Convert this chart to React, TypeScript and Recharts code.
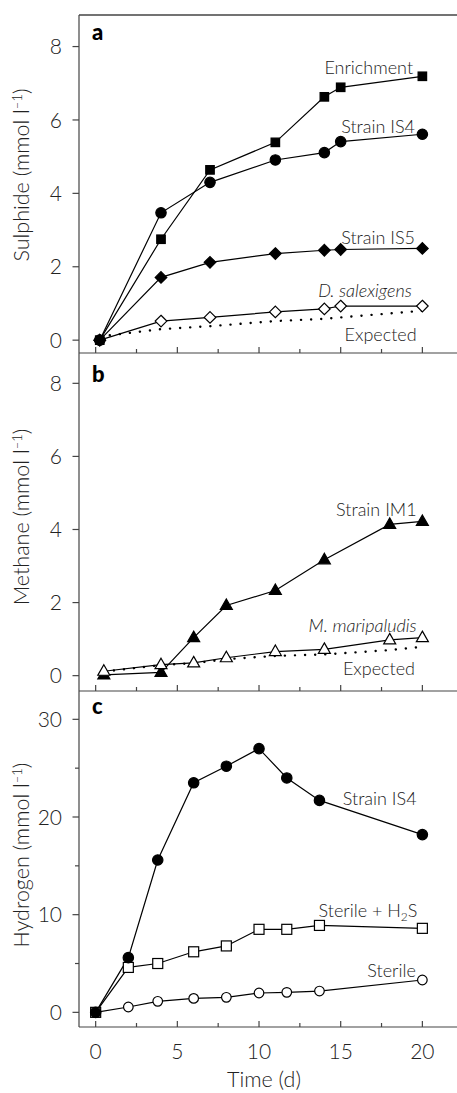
import React from "react"
import { Label, Line, LineChart, ReferenceDot, XAxis, YAxis } from "recharts"

const FONT = "Lato, 'Open Sans', sans-serif"
const WEIGHT = 300
const INK = "#222"
const AXIS = "#444"
const CHART_WIDTH = 457

// time axis, shared by the three panels
const dayTicks = [0, 2.5, 5, 7.5, 10, 12.5, 15, 17.5, 20]
const dayDomain = [-1.02, 22.12]

// a: sulphide
const sulphideDays = [0.25, 4, 7, 11, 14, 15, 20]
const enrichment = [0, 2.75, 4.64, 5.39, 6.63, 6.89, 7.19]
const strainIS4Sulphide = [0, 3.47, 4.3, 4.91, 5.11, 5.41, 5.61]
const strainIS5 = [0, 1.71, 2.12, 2.36, 2.45, 2.47, 2.5]
const dSalexigens = [0, 0.52, 0.62, 0.77, 0.85, 0.93, 0.93]
const sulphideExpected = [0.1, 0.3, 0.38, 0.52, 0.58, 0.62, 0.8]
const sulphideTicks = [0, 2, 4, 6, 8]

// b: methane
const methaneDays = [0.5, 4, 6, 8, 11, 14, 18, 20]
const strainIM1 = [0.02, 0.09, 1.04, 1.92, 2.33, 3.17, 4.14, 4.22]
const mMaripaludis = [0.12, 0.3, 0.35, 0.49, 0.66, 0.72, 0.98, 1.04]
const methaneExpected = [0.11, 0.29, 0.34, 0.45, 0.54, 0.58, 0.7, 0.79]
const methaneTicks = [0, 2, 4, 6, 8]

// c: hydrogen
const hydrogenDays = [0, 2, 3.8, 6, 8, 10, 11.7, 13.7, 20]
const strainIS4Hydrogen = [0, 5.6, 15.6, 23.5, 25.2, 27.0, 24.0, 21.7, 18.2]
const sterileH2S = [0, 4.6, 5.0, 6.2, 6.8, 8.5, 8.5, 8.9, 8.6]
const sterile = [0, 0.55, 1.13, 1.43, 1.54, 1.98, 2.05, 2.18, 3.31]
const hydrogenTicks = [0, 5, 10, 15, 20, 25, 30]

const sulphideRows = sulphideDays.map((day, i) => ({
  day,
  enrichment: enrichment[i],
  is4: strainIS4Sulphide[i],
  is5: strainIS5[i],
  dsal: dSalexigens[i],
  expected: sulphideExpected[i],
}))

const methaneRows = methaneDays.map((day, i) => ({
  day,
  im1: strainIM1[i],
  mmar: mMaripaludis[i],
  expected: methaneExpected[i],
}))

const hydrogenRows = hydrogenDays.map((day, i) => ({
  day,
  is4: strainIS4Hydrogen[i],
  sterileH2S: sterileH2S[i],
  sterile: sterile[i],
}))

type Note = { day: number; value: number; text: string; italic?: boolean; sub?: string; after?: string }

const sulphideNotes: Note[] = [
  { day: 19.43, value: 7.25, text: "Enrichment" },
  { day: 19.55, value: 5.64, text: "Strain IS4" },
  { day: 19.55, value: 2.61, text: "Strain IS5" },
  { day: 19.35, value: 1.18, text: "D. salexigens", italic: true },
  { day: 19.65, value: -0.02, text: "Expected" },
]

const methaneNotes: Note[] = [
  { day: 19.65, value: 4.37, text: "Strain IM1" },
  { day: 19.65, value: 1.2, text: "M. maripaludis", italic: true },
  { day: 19.55, value: 0.02, text: "Expected" },
]

const hydrogenNotes: Note[] = [
  { day: 19.65, value: 21.2, text: "Strain IS4" },
  { day: 19.7, value: 9.79, text: "Sterile + H", sub: "2", after: "S" },
  { day: 19.6, value: 3.65, text: "Sterile" },
]

type Shape = "square" | "circle" | "diamond" | "triangle"

function marker(shape: Shape, filled: boolean) {
  return (props: any) => {
    const { cx, cy, index } = props
    const common = {
      fill: filled ? "#000" : "#fff",
      stroke: "#000",
      strokeWidth: 1.2,
    }
    const key = `${shape}-${filled}-${index}`
    if (cx == null || cy == null) return <g key={key} />
    if (shape === "square") {
      const s = filled ? 8.5 : 10
      return <rect key={key} x={cx - s / 2} y={cy - s / 2} width={s} height={s} {...common} />
    }
    if (shape === "circle") return <circle key={key} cx={cx} cy={cy} r={filled ? 5.2 : 4.8} {...common} />
    if (shape === "diamond") {
      const d = 5.8
      return <polygon key={key} points={`${cx},${cy - d} ${cx + d},${cy} ${cx},${cy + d} ${cx - d},${cy}`} {...common} />
    }
    return <polygon key={key} points={`${cx},${cy - 6.5} ${cx + 6},${cy + 4} ${cx - 6},${cy + 4}`} {...common} />
  }
}

function DayTick(props: any) {
  const { x, y, payload, showLabel } = props
  const major = payload.value % 5 === 0
  return (
    <g>
      <line x1={x} x2={x} y1={y} y2={y - (major ? 6 : 4)} stroke={AXIS} strokeWidth={1.2} />
      {showLabel && major && (
        <text x={x} y={y + 32} textAnchor="middle" fontSize={21} fontWeight={WEIGHT} fill={INK} fontFamily={FONT}>
          {payload.value}
        </text>
      )}
    </g>
  )
}

function ValueTick(props: any) {
  const { x, y, payload, labelEvery } = props
  const major = payload.value % labelEvery === 0
  return (
    <g>
      <line x1={x - (major ? 6.5 : 4)} x2={x} y1={y} y2={y} stroke={AXIS} strokeWidth={1.2} />
      {major && (
        <text
          x={x - 17}
          y={y}
          dy="0.36em"
          textAnchor="end"
          fontSize={21}
          fontWeight={WEIGHT}
          fill={INK}
          fontFamily={FONT}
        >
          {payload.value}
        </text>
      )}
    </g>
  )
}

// rotated y title, the bold panel letter and (panel a only) the top frame line
function panelTitle(title: string, letter: string, shiftY: number, letterY: number, topFrame = false) {
  return (props: any) => {
    const vb = props.viewBox
    const cx = 29
    const cy = vb.y + vb.height / 2 + shiftY
    const left = vb.x + vb.width
    return (
      <g>
        {topFrame && <line x1={left} x2={CHART_WIDTH} y1={vb.y} y2={vb.y} stroke={AXIS} strokeWidth={1.3} />}
        <text
          x={cx}
          y={cy}
          transform={`rotate(-90, ${cx}, ${cy})`}
          textAnchor="middle"
          fontSize={21.5}
          fontWeight={WEIGHT}
          fill={INK}
          fontFamily={FONT}
        >
          {title} (mmol l
          <tspan dy={-7} fontSize={13}>
            –1
          </tspan>
          <tspan dy={7}>)</tspan>
        </text>
        <text x={left + 13} y={vb.y + letterY} fontSize={22} fontWeight={900} fill="#000" fontFamily={FONT}>
          {letter}
        </text>
      </g>
    )
  }
}

function notes(list: Note[]) {
  return list.map((n) => (
    <ReferenceDot
      key={n.text}
      x={n.day}
      y={n.value}
      r={0}
      fill="none"
      stroke="none"
      label={(props: any) => (
        <text
          x={props.viewBox.x}
          y={props.viewBox.y}
          textAnchor="end"
          fontSize={18}
          fontWeight={WEIGHT}
          fill={INK}
          fontFamily={FONT}
          fontStyle={n.italic ? "italic" : "normal"}
        >
          {n.text}
          {n.sub && (
            <tspan dy={4} fontSize={12}>
              {n.sub}
            </tspan>
          )}
          {n.after && <tspan dy={-4}>{n.after}</tspan>}
        </text>
      )}
    />
  ))
}

const lineProps = {
  type: "linear" as const,
  stroke: "#000",
  strokeWidth: 1.2,
  isAnimationActive: false,
  activeDot: false as const,
}

const dottedProps = {
  type: "linear" as const,
  stroke: "#000",
  strokeWidth: 2.4,
  strokeDasharray: "0.1 10",
  strokeLinecap: "round" as const,
  dot: false,
  isAnimationActive: false,
  activeDot: false as const,
}

function dayAxis(showLabel: boolean, height: number) {
  return (
    <XAxis
      dataKey="day"
      type="number"
      domain={dayDomain}
      ticks={dayTicks}
      interval={0}
      height={height}
      tickSize={0}
      tickMargin={0}
      tickLine={false}
      axisLine={{ stroke: AXIS, strokeWidth: 1.2 }}
      tick={(p: any) => <DayTick {...p} showLabel={showLabel} />}
    >
      {showLabel && (
        <Label
          content={(props: any) => (
            <text
              x={props.viewBox.x + props.viewBox.width / 2 - 4}
              y={props.viewBox.y + 60}
              textAnchor="middle"
              fontSize={21.5}
              fontWeight={WEIGHT}
              fill={INK}
              fontFamily={FONT}
            >
              Time (d)
            </text>
          )}
        />
      )}
    </XAxis>
  )
}

function valueAxis(domain: number[], ticks: number[], labelEvery: number, title: any) {
  return (
    <YAxis
      type="number"
      domain={domain}
      ticks={ticks}
      interval={0}
      width={79}
      tickSize={0}
      tickMargin={0}
      tickLine={false}
      axisLine={{ stroke: AXIS, strokeWidth: 1.2 }}
      tick={(p: any) => <ValueTick {...p} labelEvery={labelEvery} />}
    >
      <Label content={title} />
    </YAxis>
  )
}

export default function App() {
  return (
    <div style={{ position: "absolute", left: 0, top: 0, width: CHART_WIDTH, height: 1093, background: "#fff" }}>
      <div style={{ position: "absolute", left: 0, top: 0 }}>
        <LineChart
          width={CHART_WIDTH}
          height={365}
          data={sulphideRows}
          margin={{ top: 15, right: 0, bottom: 11, left: 0 }}
        >
          {dayAxis(false, 1)}
          {valueAxis([-0.35, 8.86], sulphideTicks, 2, panelTitle("Sulphide", "a", -9, 25, true))}
          <Line dataKey="expected" {...dottedProps} />
          <Line dataKey="dsal" {...lineProps} dot={marker("diamond", false)} />
          <Line dataKey="is5" {...lineProps} dot={marker("diamond", true)} />
          <Line dataKey="enrichment" {...lineProps} dot={marker("square", true)} />
          <Line dataKey="is4" {...lineProps} dot={marker("circle", true)} />
          {notes(sulphideNotes)}
        </LineChart>
      </div>
      <div style={{ position: "absolute", left: 0, top: 343 }}>
        <LineChart
          width={CHART_WIDTH}
          height={360}
          data={methaneRows}
          margin={{ top: 10, right: 0, bottom: 11, left: 0 }}
        >
          {dayAxis(false, 1)}
          {valueAxis([-0.42, 8.83], methaneTicks, 2, panelTitle("Methane", "b", -5, 28.7))}
          <Line dataKey="expected" {...dottedProps} />
          <Line dataKey="im1" {...lineProps} dot={marker("triangle", true)} />
          <Line dataKey="mmar" {...lineProps} dot={marker("triangle", false)} />
          {notes(methaneNotes)}
        </LineChart>
      </div>
      <div style={{ position: "absolute", left: 0, top: 681 }}>
        <LineChart
          width={CHART_WIDTH}
          height={412}
          data={hydrogenRows}
          margin={{ top: 10, right: 0, bottom: 0, left: 0 }}
        >
          {dayAxis(true, 66)}
          {valueAxis([-1.5, 32.9], hydrogenTicks, 10, panelTitle("Hydrogen", "c", -4, 23.3))}
          <Line dataKey="sterile" {...lineProps} dot={marker("circle", false)} />
          <Line dataKey="sterileH2S" {...lineProps} dot={marker("square", false)} />
          <Line dataKey="is4" {...lineProps} dot={marker("circle", true)} />
          {notes(hydrogenNotes)}
        </LineChart>
      </div>
    </div>
  )
}
